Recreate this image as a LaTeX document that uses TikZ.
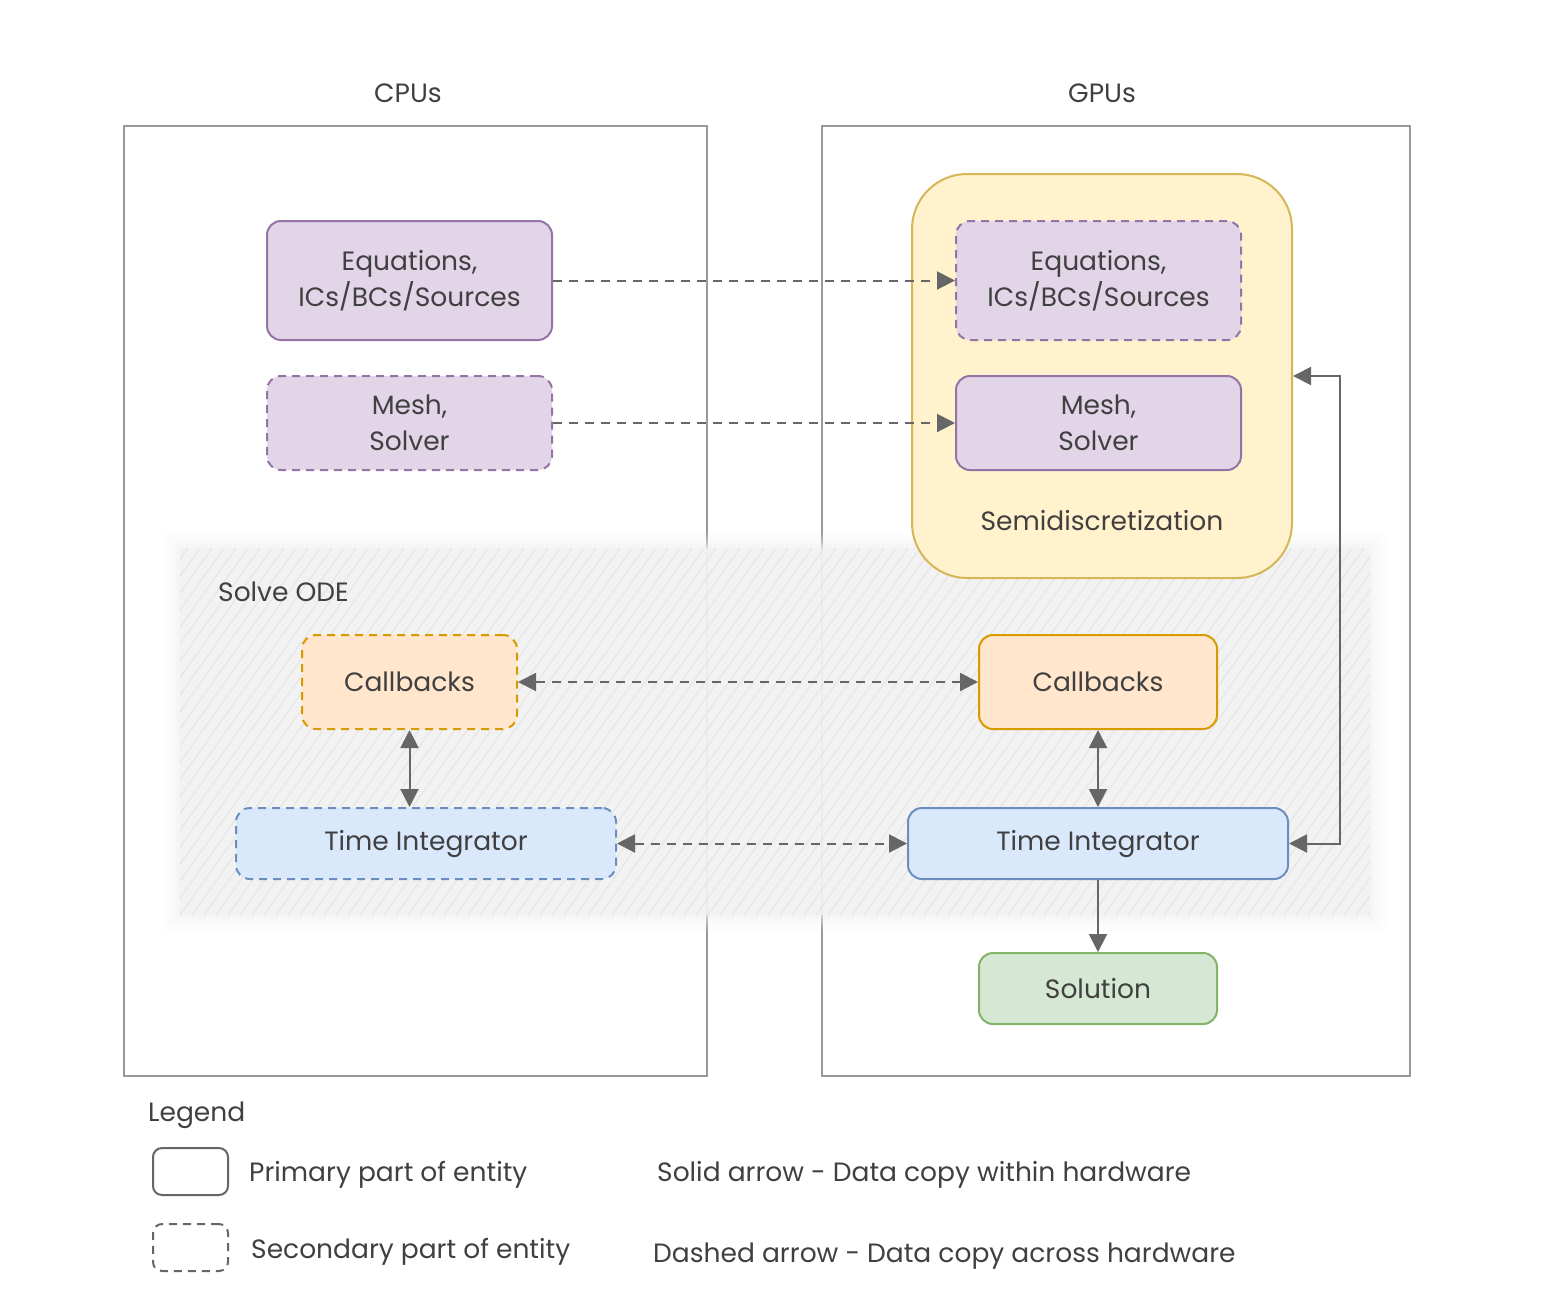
\documentclass[tikz,border=0pt]{standalone}
\usepackage{fontspec}
\setmainfont{Poppins}
\usetikzlibrary{arrows.meta,calc}
\definecolor{txt}{HTML}{404040}
\definecolor{cont}{HTML}{999999}
\definecolor{arr}{HTML}{666666}
\definecolor{pfill}{HTML}{E1D5E7}\definecolor{pdraw}{HTML}{9673A6}
\definecolor{ofill}{HTML}{FFE6CC}\definecolor{odraw}{HTML}{D79B00}
\definecolor{bfill}{HTML}{DAE8FC}\definecolor{bdraw}{HTML}{6C8EBF}
\definecolor{gfill}{HTML}{D5E8D4}\definecolor{gdraw}{HTML}{82B366}
\definecolor{yfill}{HTML}{FFF2CC}\definecolor{ydraw}{HTML}{D6B656}
\begin{document}
\begin{tikzpicture}[x=1pt,y=-1pt,
  lbl/.style={text=txt,font=\fontsize{26.5}{36}\selectfont,inner sep=0pt,yshift=-3pt},
  ent/.style={rounded corners=14pt,line width=2pt,align=center,text=txt,
    font=\fontsize{26.5}{36}\selectfont,inner sep=0pt},
  sec/.style={dash pattern=on 8pt off 6pt},
  purp/.style={ent,fill=pfill,draw=pdraw},
  oran/.style={ent,fill=ofill,draw=odraw},
  blu/.style={ent,fill=bfill,draw=bdraw},
  gre/.style={ent,fill=gfill,draw=gdraw},
  conn/.style={draw=arr,line width=2pt,-{Triangle[length=18pt,width=18pt]}},
  both/.style={conn,{Triangle[length=18pt,width=18pt]}-{Triangle[length=18pt,width=18pt]}},
  dsh/.style={dash pattern=on 9pt off 7pt}]
\useasboundingbox[fill=white] (0,0) rectangle (1554,1301);
% containers
\node[lbl] (cpulbl) at (408,90) {CPUs};
\node[lbl] (gpulbl) at (1102,90) {GPUs};
\draw[cont,line width=2pt] (124,126) rectangle (707,1076);
\draw[cont,line width=2pt] (822,126) rectangle (1410,1076);
% Solve ODE region
\foreach \e/\o in {16/0.1,12/0.15,8/0.22,4/0.3,1/0.4}{
  \fill[white!95!black,fill opacity=\o] (180-\e,548-\e) rectangle (1370+\e,915+\e);}
\fill[white!95!black,fill opacity=0.75] (180,548) rectangle (1370,915);
\begin{scope}
\clip (180,548) rectangle (1370,915);
\foreach \i in {-300,-288,...,1400}{
  \draw[white!89!black,line width=0.9pt] (\i,915) -- ++(260,-367);}
\end{scope}
\node[lbl,anchor=west] (solve) at (218,589) {Solve ODE};
% semidiscretization
\node[rounded corners=55pt,fill=yfill,draw=ydraw,line width=2pt,minimum width=380pt,minimum height=404pt,inner sep=0pt] (semi) at (1102,376) {};
\node[lbl] (semilbl) at (1102,518) {Semidiscretization};
% entities
\node[purp,minimum width=285pt,minimum height=119pt] (ceq) at (409.5,280.5) {Equations,\\ICs/BCs/Sources};
\node[purp,sec,minimum width=285pt,minimum height=94pt] (cmesh) at (409.5,423) {Mesh,\\Solver};
\node[purp,sec,minimum width=285pt,minimum height=119pt] (geq) at (1098.5,280.5) {Equations,\\ICs/BCs/Sources};
\node[purp,minimum width=285pt,minimum height=94pt] (gmesh) at (1098.5,423) {Mesh,\\Solver};
\node[oran,sec,minimum width=215pt,minimum height=94pt] (ccb) at (409.5,682) {Callbacks};
\node[oran,minimum width=238pt,minimum height=94pt] (gcb) at (1098,682) {Callbacks};
\node[blu,sec,minimum width=380pt,minimum height=71pt] (cti) at (426,843.5) {Time Integrator};
\node[blu,minimum width=380pt,minimum height=71pt] (gti) at (1098,843.5) {Time Integrator};
\node[gre,minimum width=238pt,minimum height=71pt] (sol) at (1098,988.5) {Solution};
% connectors
\draw[conn,dsh] (ceq.east) -- (geq.west);
\draw[conn,dsh] (cmesh.east) -- (gmesh.west);
\draw[both,dsh] (ccb.east) -- (gcb.west);
\draw[both,dsh] (cti.east) -- (gti.west);
\draw[both] (ccb.south) -- (ccb.south |- cti.north);
\draw[both] (gcb.south) -- (gti.north);
\draw[conn] (gti.south) -- (sol.north);
\coordinate (elb) at (1340,376);
\draw[both] (gti.east) -| (elb) -- (semi.east |- elb);
% legend
\node[lbl,anchor=west] (leg) at (148,1112) {Legend};
\node[draw=arr,line width=2pt,rounded corners=9pt,minimum width=75pt,minimum height=47pt,inner sep=0pt] (lsolid) at (190.5,1171.5) {};
\node[draw=arr,line width=2pt,sec,rounded corners=9pt,minimum width=75pt,minimum height=47pt,inner sep=0pt] (ldash) at (190.5,1247.5) {};
\node[lbl,anchor=west] (lt1) at (249,1172) {Primary part of entity};
\node[lbl,anchor=west] (lt2) at (251,1249) {Secondary part of entity};
\node[lbl,anchor=west] (lt3) at (657,1172) {Solid arrow - Data copy within hardware};
\node[lbl,anchor=west] (lt4) at (653,1253) {Dashed arrow - Data copy across hardware};
\end{tikzpicture}
\end{document}
